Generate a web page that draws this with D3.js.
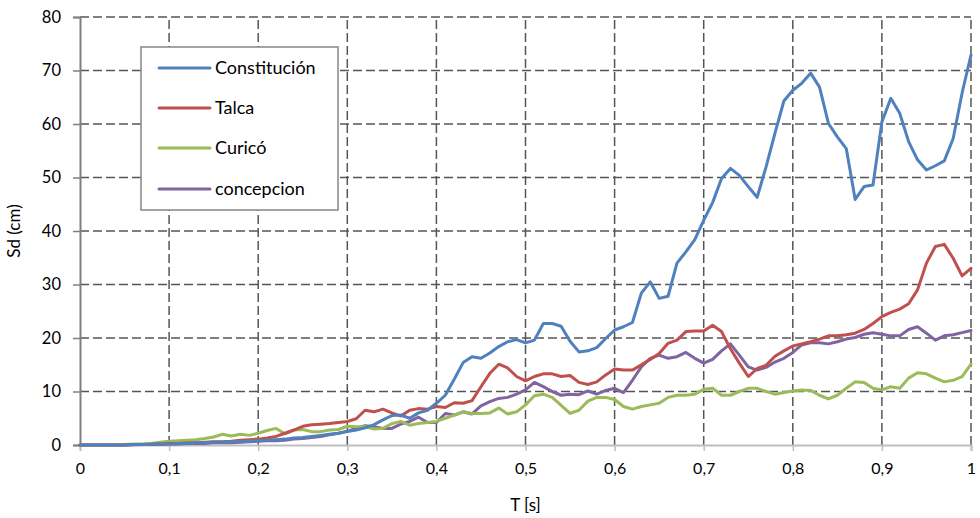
<!DOCTYPE html>
<html>
<head>
<meta charset="utf-8">
<script src="https://cdn.jsdelivr.net/npm/d3@7"></script>
<style>
  html, body { margin: 0; padding: 0; background: #fff; }
  svg { display: block; }
  text { font-family: Lato, "Open Sans", sans-serif; fill: #000; }
</style>
</head>
<body>
<svg id="chart" width="980" height="518"></svg>
<script>
const periods = d3.range(0, 101).map(i => +(i / 100).toFixed(2));

const constitucion = [0,0,0,0,0,0,0.1,0.1,0.1,0.2,0.2,0.3,0.3,0.4,0.4,0.5,0.5,0.6,0.6,0.7,
  0.8,0.9,1.0,1.1,1.3,1.4,1.6,1.8,2.0,2.2,2.5,2.8,3.2,3.8,4.7,5.5,5.6,5.0,6.0,6.5,
  7.8,9.3,12.3,15.4,16.5,16.2,17.2,18.4,19.3,19.7,19.1,19.6,22.7,22.7,22.2,19.4,17.4,17.6,18.2,19.9,
  21.5,22.1,22.9,28.4,30.5,27.4,27.8,34.0,36.1,38.4,42.0,45.3,49.8,51.7,50.4,48.3,46.3,52.0,58.3,64.3,
  66.3,67.6,69.5,66.9,60.1,57.6,55.4,45.9,48.3,48.6,60.4,64.8,62.0,56.7,53.3,51.4,52.2,53.1,57.3,65.8,72.9];

const talca = [0,0,0,0,0,0,0.1,0.1,0.2,0.2,0.3,0.3,0.4,0.4,0.5,0.6,0.6,0.7,0.9,1.0,
  1.1,1.3,1.6,2.2,2.8,3.5,3.8,3.9,4.0,4.2,4.4,4.9,6.5,6.2,6.7,6.0,5.4,6.5,6.8,6.7,
  7.2,7.0,7.9,7.8,8.3,10.9,13.4,15.1,14.4,12.8,12.0,12.8,13.3,13.3,12.8,13.0,11.7,11.3,11.8,13.1,
  14.2,14.0,14.0,15.0,16.0,17.1,19.0,19.6,21.2,21.3,21.3,22.4,21.2,18.0,15.3,12.8,14.3,14.9,16.6,17.6,
  18.5,18.9,19.3,19.8,20.4,20.4,20.6,20.9,21.6,22.7,24.0,24.8,25.4,26.4,29.0,34.0,37.1,37.5,34.9,31.6,33.0];

const curico = [0,0,0,0,0.1,0.1,0.2,0.2,0.3,0.5,0.7,0.8,0.9,1.0,1.2,1.5,2.0,1.7,2.0,1.8,
  2.2,2.7,3.1,2.1,2.8,2.9,2.5,2.5,2.8,2.9,3.5,3.4,3.4,3.0,3.1,4.0,4.4,3.7,4.0,4.2,
  4.4,5.0,5.6,6.2,5.9,5.9,6.0,6.9,5.8,6.2,7.5,9.2,9.5,8.9,7.4,5.9,6.5,8.2,8.9,8.9,
  8.5,7.2,6.7,7.2,7.5,7.8,8.9,9.3,9.3,9.5,10.4,10.6,9.3,9.3,10.0,10.6,10.6,10.0,9.5,9.8,
  10.1,10.3,10.2,9.3,8.6,9.3,10.6,11.8,11.7,10.6,10.3,10.9,10.6,12.5,13.5,13.3,12.5,11.8,12.1,12.8,15.1];

const concepcion = [0,0,0,0,0,0,0.05,0.1,0.1,0.15,0.2,0.2,0.3,0.3,0.3,0.4,0.4,0.4,0.5,0.6,
  0.7,0.8,0.8,0.9,1.1,1.2,1.4,1.6,1.9,2.2,2.6,3.1,3.6,3.4,3.1,3.1,3.9,4.4,5.2,4.2,
  4.2,5.9,5.6,6.2,5.8,7.3,8.1,8.7,8.9,9.5,10.3,11.7,10.9,10.0,9.3,9.5,9.4,10.1,9.5,10.2,
  10.6,9.8,12.1,14.6,16.2,16.8,16.2,16.5,17.3,16.2,15.3,16.0,17.6,18.9,16.8,14.6,14.0,14.5,15.5,16.2,
  17.3,18.7,19.1,19.1,18.9,19.3,19.8,20.1,20.7,21.0,20.7,20.4,20.4,21.6,22.1,20.9,19.6,20.4,20.6,21.0,21.4];

const seriesNames = ["Constitución", "Talca", "Curicó", "concepcion"];
const seriesColors = ["#4F81BD", "#C0504D", "#9BBB59", "#8064A2"];
const seriesValues = [constitucion, talca, curico, concepcion];

const xTicks = [0, 0.1, 0.2, 0.3, 0.4, 0.5, 0.6, 0.7, 0.8, 0.9, 1];
const yTicks = [0, 10, 20, 30, 40, 50, 60, 70, 80];
const xTitle = "T [s]";
const yTitle = "Sd (cm)";

const svg = d3.select("#chart");
const margin = { left: 80, right: 9, top: 17, bottom: 73 };
const W = 980, H = 518;
const x = d3.scaleLinear().domain([0, 1]).range([margin.left, W - margin.right]);
const y = d3.scaleLinear().domain([0, 80]).range([H - margin.bottom, margin.top]);

const fmtX = d => d === 0 ? "0" : d === 1 ? "1" : d3.format(".1f")(d).replace(".", ",");

// gridlines
const grid = svg.append("g");
grid.selectAll("line.hg").data(yTicks.filter(d => d > 0)).join("line")
  .attr("x1", x(0)).attr("x2", x(1))
  .attr("y1", d => y(d)).attr("y2", d => y(d))
  .attr("stroke", "#555").attr("stroke-width", 1.5).attr("stroke-dasharray", "9,4");
grid.selectAll("line.vg").data(xTicks.filter(d => d > 0)).join("line")
  .attr("x1", d => x(d)).attr("x2", d => x(d))
  .attr("y1", y(0)).attr("y2", y(80))
  .attr("stroke", "#555").attr("stroke-width", 1.5).attr("stroke-dasharray", "9,4");

// axes
const xAxis = svg.append("g").attr("transform", `translate(0,${y(0)})`)
  .call(d3.axisBottom(x).tickValues(xTicks).tickFormat(fmtX).tickSize(6).tickPadding(12));
xAxis.select(".domain").attr("stroke", "#bfbfbf").attr("stroke-width", 2);
xAxis.selectAll(".tick line").attr("stroke", "#bfbfbf").attr("stroke-width", 1.5);
xAxis.selectAll(".tick text").attr("font-size", 16).style("font-family", "Lato, 'Open Sans', sans-serif");

const yAxis = svg.append("g").attr("transform", `translate(${x(0)},0)`)
  .call(d3.axisLeft(y).tickValues(yTicks).tickSize(7).tickPadding(12));
yAxis.select(".domain").attr("stroke", "#7f7f7f").attr("stroke-width", 2);
yAxis.selectAll(".tick line").attr("stroke", "#7f7f7f").attr("stroke-width", 1.5);
yAxis.selectAll(".tick text").attr("font-size", 16.5).style("font-family", "Lato, 'Open Sans', sans-serif");

// titles
svg.append("text").attr("x", x(0.5)).attr("y", 511).attr("text-anchor", "middle")
  .attr("font-size", 17).text(xTitle);
svg.append("text").attr("transform", `translate(20,${y(40)}) rotate(-90)`)
  .attr("text-anchor", "middle").attr("font-size", 17).text(yTitle);

// lines
const line = d3.line().x((d, i) => x(periods[i])).y(d => y(d));
const drawOrder = [3, 2, 1, 0];
svg.append("g").selectAll("path").data(drawOrder.map(i => ({ v: seriesValues[i], c: seriesColors[i] })))
  .join("path")
  .attr("d", d => line(d.v))
  .attr("fill", "none").attr("stroke", d => d.c).attr("stroke-width", 3)
  .attr("stroke-linejoin", "round").attr("stroke-linecap", "round");

// legend
const lg = svg.append("g");
lg.append("rect").attr("x", 141).attr("y", 47).attr("width", 197).attr("height", 163)
  .attr("fill", "#fff").attr("stroke", "#868686").attr("stroke-width", 1.5);
const legY = [68, 108, 148, 189];
seriesNames.forEach((n, i) => {
  lg.append("line").attr("x1", 159).attr("x2", 210).attr("y1", legY[i]).attr("y2", legY[i])
    .attr("stroke", seriesColors[i]).attr("stroke-width", 3).attr("stroke-linecap", "round");
  lg.append("text").attr("x", 215).attr("y", legY[i]).attr("dy", "0.36em")
    .attr("font-size", 18).text(n);
});
</script>
</body>
</html>
